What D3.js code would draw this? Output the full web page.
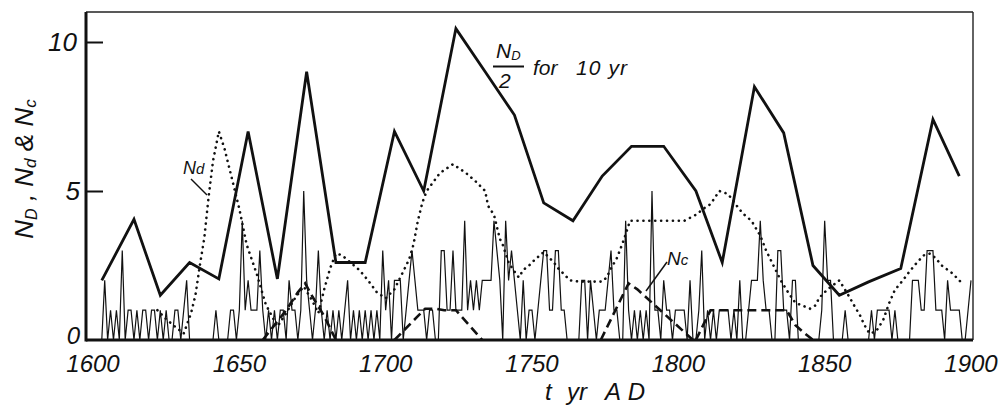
<!DOCTYPE html>
<html>
<head>
  <meta charset="UTF-8">
  <style>
    body { margin: 0; background: #fff; }
    svg { display: block; }
    text { font-family: "Liberation Sans", Arial, sans-serif; font-style: italic; fill: #111; }
  </style>
</head>
<body>
<svg></svg>
<script src="https://d3js.org/d3.v7.min.js"></script>
<script>

let width = 1007, height = 411;

// N_D / 2 for 10 yr (thick solid line)
const decadeYears = [1603, 1614, 1623, 1633, 1643, 1653, 1663, 1673, 1683, 1693,
                     1703, 1713, 1724, 1734, 1744, 1754, 1764, 1774, 1784, 1795,
                     1806, 1815, 1826, 1836, 1846, 1855, 1865, 1876, 1887, 1896];
const decadeND = [2.0, 4.05, 1.5, 2.6, 2.05, 7.0, 2.05, 9.0, 2.6, 2.6,
                  7.0, 5.0, 10.45, 9.0, 7.55, 4.6, 4.0, 5.5, 6.5, 6.5,
                  5.0, 2.6, 8.5, 6.95, 2.5, 1.5, 1.95, 2.4, 7.4, 5.5];

// N_d (dotted line)
const ndYears = [1622, 1625, 1628, 1631, 1633.5, 1635, 1636.5, 1638, 1639.5, 1641, 1643, 1645, 1647,
                 1650, 1652.5, 1656, 1659, 1663, 1666, 1669, 1672, 1675, 1677, 1679, 1681, 1683,
                 1685, 1688, 1691, 1694, 1697, 1700, 1703, 1706, 1708, 1709.5, 1711, 1712.5, 1714,
                 1718.5, 1723, 1727.5, 1731, 1734, 1735, 1737, 1739, 1740, 1742, 1744, 1745.5,
                 1747, 1749, 1751, 1754, 1757.5, 1759, 1761, 1763, 1766, 1770, 1774, 1775.5, 1777,
                 1779, 1780, 1781.5, 1783.5, 1790, 1797, 1802, 1806, 1808.5, 1811, 1814, 1817,
                 1820, 1822, 1825, 1828, 1830, 1832.5, 1835, 1837.5, 1840, 1842.5, 1845, 1847,
                 1848, 1851, 1853, 1855, 1856.7, 1858.4, 1860, 1862, 1863.6, 1865.3, 1867.5, 1870,
                 1872, 1874, 1876.7, 1879, 1881.8, 1884, 1886, 1888, 1890, 1893.6, 1896.4];
const ndValues = [1.0, 0.7, 0.45, 0.22, 0.9, 1.5, 2.5, 3.4, 4.8, 6.0, 7.0, 6.4, 5.6,
                  4.4, 3.2, 2.2, 1.2, 0.45, 0.9, 1.4, 1.8, 1.3, 0.9, 1.7, 2.4, 2.9,
                  2.85, 2.6, 2.35, 2.0, 1.6, 1.4, 1.7, 2.3, 2.7, 3.2, 4.0, 4.6, 5.0,
                  5.6, 5.9, 5.6, 5.3, 5.0, 4.5, 4.2, 3.4, 3.2, 2.6, 2.3, 2.1,
                  2.35, 2.5, 2.7, 2.95, 2.6, 2.4, 2.2, 2.0, 1.96, 1.96, 1.96, 2.1, 2.4,
                  2.75, 3.0, 3.4, 4.0, 4.0, 4.0, 4.0, 4.2, 4.4, 4.56, 5.0, 4.9,
                  4.5, 4.25, 4.0, 3.5, 3.0, 2.5, 2.0, 1.6, 1.25, 1.15, 1.05, 1.17,
                  1.4, 1.7, 1.85, 2.0, 1.73, 1.45, 1.17, 0.84, 0.5, 0.22, 0.28, 0.67,
                  1.23, 1.68, 2.0, 2.3, 2.63, 2.85, 2.9, 2.74, 2.5, 2.24, 1.96];

// N_c (dashed line), separate episodes
const ncEpisodes = [
  { years: [1658, 1662, 1666, 1670, 1672.5, 1675, 1679, 1683], values: [0, 0.5, 1.0, 1.6, 1.9, 1.45, 0.8, 0] },
  { years: [1703, 1711, 1713.5, 1717, 1720, 1724, 1733], values: [0, 0.8, 1.05, 1.05, 1.0, 1.0, 0] },
  { years: [1773.5, 1778, 1781, 1783, 1786, 1805], values: [0, 0.9, 1.5, 1.9, 1.7, 0] },
  { years: [1806, 1811, 1837, 1840, 1842.5, 1846], values: [0, 1.0, 1.0, 0.5, 0.28, 0] }
];

// annual counts (thin line), one value per year from 1603 to 1900
const annualFirstYear = 1603;
const annualCounts = [
  0, 2, 0, 1, 0, 1, 0,
  3, 0, 1, 1, 0, 1, 0, 1, 1, 0,
  1, 1, 0, 1, 0, 1, 0, 0, 1, 1,
  0, 1, 2, 0, 0, 0, 0, 0, 0, 0,
  0, 0, 1, 0, 0, 0, 0, 1, 1, 0,
  1, 4, 1, 2, 1, 1, 1, 3, 1, 0,
  1, 0, 1, 0, 1, 1, 0, 2, 1, 1,
  0, 1, 5, 2, 1, 0, 1, 3, 1, 0,
  1, 0, 1, 0, 1, 0, 1, 2, 0, 1,
  0, 1, 0, 1, 0, 1, 0, 1, 0, 3,
  1, 2, 0, 2, 2, 2, 0, 1, 2, 3,
  2, 1, 1, 1, 0, 1, 1, 0, 0, 3,
  3, 1, 1, 3, 1, 1, 1, 4, 1, 2,
  1, 2, 1, 2, 2, 2, 2, 4, 3, 2,
  0, 4, 2, 3, 2, 1, 0, 2, 0, 1,
  1, 0, 1, 2, 3, 3, 1, 1, 3, 3,
  1, 1, 0, 0, 0, 0, 0, 2, 2, 0,
  2, 1, 0, 1, 1, 1, 2, 3, 1, 1,
  0, 0, 4, 1, 0, 1, 0, 1, 0, 1,
  0, 5, 1, 1, 0, 2, 1, 1, 0, 1,
  1, 1, 1, 0, 2, 0, 0, 1, 3, 0,
  1, 0, 1, 0, 1, 1, 1, 1, 0, 1,
  0, 2, 0, 0, 1, 2, 2, 2, 4, 2,
  1, 1, 0, 0, 3, 3, 1, 1, 0, 2,
  2, 0, 0, 0, 0, 0, 0, 0, 0, 1,
  4, 2, 2, 0, 0, 0, 0, 1, 0, 0,
  0, 0, 0, 0, 0, 0, 1, 0, 1, 1,
  1, 1, 1, 0, 1, 0, 0, 0, 0, 0,
  2, 2, 2, 1, 1, 3, 3, 3, 1, 1,
  1, 0, 2, 1, 1, 1, 1, 0, 0, 1,
  2
];

const xTicks = [1600, 1650, 1700, 1750, 1800, 1850, 1900];
const yTicks = [0, 5, 10];

let svg = d3.select("svg")
    .attr("width", width)
    .attr("height", height);

let x = d3.scaleLinear().domain([1600, 1900]).range([93, 971]);
let y = d3.scaleLinear().domain([0, 10]).range([340, 42]);

let frame = { left: 86, right: 973, top: 12, bottom: 340 };

let line = d3.line().x(d => x(d[0])).y(d => y(d[1]));

// thin annual line
let annual = annualCounts.map((v, i) => [annualFirstYear + i, v]);
svg.append("path")
    .attr("d", line(annual))
    .attr("fill", "none")
    .attr("stroke", "#111")
    .attr("stroke-width", 1.2)
    .attr("stroke-linejoin", "miter");

// dotted N_d
svg.append("path")
    .attr("d", line(ndYears.map((yr, i) => [yr, ndValues[i]])))
    .attr("fill", "none")
    .attr("stroke", "#111")
    .attr("stroke-width", 2.6)
    .attr("stroke-linecap", "round")
    .attr("stroke-dasharray", "0.1 5.8");

// dashed N_c
ncEpisodes.forEach(ep => {
    svg.append("path")
        .attr("d", line(ep.years.map((yr, i) => [yr, ep.values[i]])))
        .attr("fill", "none")
        .attr("stroke", "#111")
        .attr("stroke-width", 2.6)
        .attr("stroke-dasharray", "9 5");
});

// thick N_D/2
svg.append("path")
    .attr("d", line(decadeYears.map((yr, i) => [yr, decadeND[i]])))
    .attr("fill", "none")
    .attr("stroke", "#111")
    .attr("stroke-width", 2.8)
    .attr("stroke-linejoin", "miter");

// frame
svg.append("line").attr("x1", frame.left).attr("x2", frame.right).attr("y1", frame.top).attr("y2", frame.top)
    .attr("stroke", "#222").attr("stroke-width", 1.6);
svg.append("line").attr("x1", frame.right).attr("x2", frame.right).attr("y1", frame.top).attr("y2", frame.bottom)
    .attr("stroke", "#222").attr("stroke-width", 1.4);
svg.append("line").attr("x1", frame.left).attr("x2", frame.left).attr("y1", frame.top).attr("y2", frame.bottom + 1.5)
    .attr("stroke", "#111").attr("stroke-width", 3);
svg.append("line").attr("x1", frame.left).attr("x2", frame.right).attr("y1", frame.bottom).attr("y2", frame.bottom)
    .attr("stroke", "#111").attr("stroke-width", 3);

// y axis ticks and labels
let yAxis = svg.append("g").attr("transform", "translate(" + frame.left + ",0)")
    .call(d3.axisRight(y).tickValues(yTicks.filter(d => d > 0)).tickSize(17).tickFormat(""));
yAxis.select(".domain").remove();
yAxis.selectAll(".tick line").attr("stroke", "#111").attr("stroke-width", 2);

svg.append("g").selectAll("text")
    .data(yTicks)
    .enter()
    .append("text")
    .attr("x", d => d == 10 ? 77 : 80)
    .attr("y", d => d == 0 ? 344 : y(d) + 9)
    .attr("text-anchor", "end")
    .attr("font-size", d => d == 0 ? 24 : 26)
    .text(d => d);

// x tick labels
svg.append("g").selectAll("text")
    .data(xTicks)
    .enter()
    .append("text")
    .attr("x", d => x(d))
    .attr("y", 372)
    .attr("text-anchor", "middle")
    .attr("font-size", 24)
    .text(d => d);

// axis titles
let xTitle = svg.append("g");
xTitle.append("text").attr("x", 545).attr("y", 400).attr("font-size", 24).text("t");
xTitle.append("text").attr("x", 567).attr("y", 400).attr("font-size", 24).text("yr");
xTitle.append("text").attr("x", 605).attr("y", 400).attr("font-size", 24)
    .attr("textLength", 40).attr("lengthAdjust", "spacing").text("AD");

let yTitle = svg.append("text")
    .attr("transform", "translate(33,169) rotate(-90)")
    .attr("text-anchor", "middle")
    .attr("font-size", 26);
yTitle.append("tspan").text("N");
yTitle.append("tspan").attr("font-size", 16).attr("dy", 4).text("D");
yTitle.append("tspan").attr("dy", -4).text("  ,  N");
yTitle.append("tspan").attr("font-size", 17).attr("dy", 3).text("d");
yTitle.append("tspan").attr("dy", -3).text("  &  N");
yTitle.append("tspan").attr("font-size", 17).attr("dy", 3).text("c");

// annotation N_D/2 for 10 yr
let ann = svg.append("g");
let nd = ann.append("text").attr("x", 496).attr("y", 58).attr("font-size", 21);
nd.append("tspan").text("N");
nd.append("tspan").attr("font-size", 13).attr("dy", 2).text("D");
ann.append("line").attr("x1", 493).attr("x2", 524).attr("y1", 66.5).attr("y2", 66.5)
    .attr("stroke", "#111").attr("stroke-width", 2);
ann.append("text").attr("x", 499).attr("y", 88).attr("font-size", 21).text("2");
ann.append("text").attr("x", 533).attr("y", 75).attr("font-size", 21).text("for");
ann.append("text").attr("x", 576).attr("y", 75).attr("font-size", 21)
    .attr("textLength", 51).attr("lengthAdjust", "spacing").text("10 yr");

// N_d label with leader
let ndLab = svg.append("text").attr("x", 183).attr("y", 174).attr("font-size", 18);
ndLab.append("tspan").text("N");
ndLab.append("tspan").attr("font-size", 15).text("d");
svg.append("line").attr("x1", 191).attr("y1", 179).attr("x2", 207).attr("y2", 195)
    .attr("stroke", "#111").attr("stroke-width", 1.5);

// N_c label with leader
let ncLab = svg.append("text").attr("x", 667).attr("y", 265).attr("font-size", 19);
ncLab.append("tspan").text("N");
ncLab.append("tspan").attr("font-size", 15).text("c");
svg.append("line").attr("x1", 667).attr("y1", 262).attr("x2", 646).attr("y2", 291)
    .attr("stroke", "#111").attr("stroke-width", 1.5);

</script>
</body>
</html>
